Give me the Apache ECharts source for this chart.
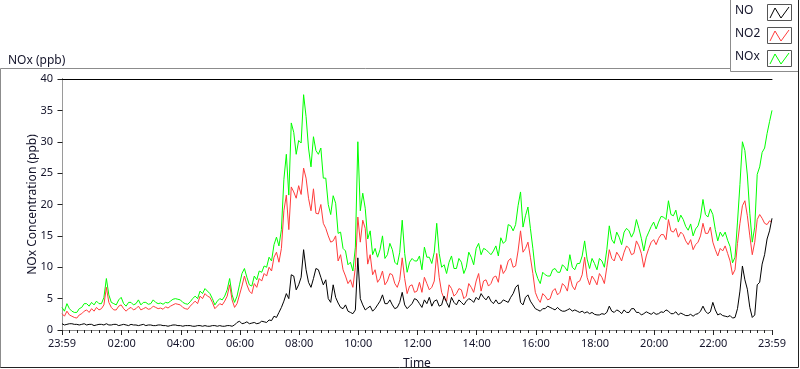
<!DOCTYPE html>
<html>
<head>
<meta charset="utf-8">
<script src="https://cdn.jsdelivr.net/npm/echarts@6/dist/echarts.min.js"></script>
<style>
html,body{margin:0;padding:0;background:#fff;}
#chart{width:800px;height:369px;}
</style>
</head>
<body>
<div id="chart"></div>
<script>
// sampling grid: minutes relative to 00:00 (start 23:59 of previous day), 5-min step
const startMinute = -1;
const stepMinutes = 5;

const seriesNames = ['NO', 'NO2', 'NOx'];

const noValues = [
1.0,0.8, 0.9,1.0, 1.0,0.9, 0.9,0.8, 0.9,1.0, 0.8,0.9, 0.9,0.7, 0.8,0.9, 0.9,0.8, 1.0,0.8,
0.8,0.9, 0.9,0.7, 0.8,0.9, 0.8,0.7, 0.9,0.8, 0.8,0.7, 0.8,0.9, 0.7,0.8, 0.8,0.7, 0.7,0.8,
0.8,0.7, 0.7,0.6, 0.7,0.8, 0.8,0.7, 0.7,0.6, 0.7,0.7, 0.7,0.6, 0.6,0.7, 0.7,0.6, 0.7,0.6,
0.6,0.7, 0.7,0.6, 0.7,0.6, 0.6,0.7, 0.7,0.6, 0.8,1.2, 1.4,1.0, 1.1,1.3, 1.0,1.1, 1.2,1.0,
1.1,1.4, 1.3,1.2, 1.6,1.5, 2.2,2.0, 2.8,3.6, 4.6,5.8, 5.0,8.8, 8.6,6.4, 7.2,8.4, 12.8,9.6,
7.6,6.8, 8.2,9.8, 9.6,8.4, 7.2,8.0, 5.0,4.4, 7.2,5.2, 4.3,3.6, 3.4,4.0, 3.0,2.8, 2.6,3.2,
11.5,5.0, 4.0,3.2, 3.5,3.8, 3.0,3.4, 4.0,4.6, 5.6,4.2, 4.2,4.8, 4.0,3.4, 3.6,4.4, 6.0,4.0,
3.4,3.8, 4.2,5.0, 4.8,4.2, 3.6,4.8, 4.2,5.2, 3.8,4.6, 4.8,3.8, 4.0,5.4, 4.4,3.6, 5.2,4.4,
4.0,4.8, 4.4,4.0, 4.6,5.0, 4.8,4.4, 5.2,4.8, 5.8,5.2, 4.8,5.4, 4.6,4.2, 4.8,4.2, 4.3,4.8,
4.6,4.4, 5.2,5.8, 6.8,7.2, 4.4,4.0, 5.2,5.6, 4.6,4.0, 3.4,3.2, 3.0,3.4, 3.4,3.8, 3.6,3.4,
3.2,3.6, 3.2,3.0, 3.0,3.2, 3.4,3.0, 3.2,3.0, 2.8,3.0, 2.7,2.9, 2.6,2.8, 2.5,2.4, 2.4,2.6,
2.5,2.8, 3.8,3.0, 2.8,3.2, 3.0,2.6, 3.2,2.8, 2.8,3.4, 3.4,2.8, 2.8,2.4, 2.6,2.9, 2.7,2.5,
2.8,2.5, 2.6,2.9, 2.8,3.2, 3.0,2.6, 2.6,2.9, 2.4,2.7, 2.5,2.3, 2.3,2.5, 2.2,2.5, 2.6,3.0,
3.8,3.0, 2.6,2.9, 4.4,3.2, 2.4,2.6, 2.3,2.2, 2.1,2.3, 1.9,2.0, 3.4,6.2, 10.2,8.0, 6.5,3.6,
2.0,2.4, 7.2,7.6, 10.5,12.0, 14.5,15.8, 17.8];

const no2Values = [
2.6,2.2, 3.0,2.4, 2.2,2.0, 1.9,2.4, 2.6,3.0, 3.2,2.8, 3.4,3.0, 3.6,3.2, 3.4,4.0, 6.8,4.4,
3.6,3.2, 3.2,3.8, 4.0,3.4, 3.0,3.4, 3.6,3.2, 3.4,3.8, 3.2,3.4, 3.6,3.3, 3.4,3.8, 3.6,3.4,
3.5,3.3, 3.7,3.5, 3.8,4.0, 4.2,4.1, 4.0,3.6, 3.4,3.3, 3.8,4.2, 4.6,4.2, 5.4,5.0, 5.8,5.4,
5.2,4.4, 3.4,3.8, 4.2,4.0, 4.6,5.4, 7.2,4.8, 3.6,4.2, 5.6,7.0, 8.6,7.2, 6.2,5.8, 7.4,6.8,
8.2,7.8, 9.0,8.6, 10.0,9.4, 11.6,12.4, 10.8,13.0, 19.0,21.5, 16.0,22.8, 22.0,21.0, 23.0,21.6, 25.8,24.2,
21.0,19.0, 22.5,18.6, 18.5,20.0, 17.0,16.2, 15.0,14.0, 14.2,15.0, 11.0,12.0, 9.6,8.6, 7.4,8.0, 6.8,10.0,
18.0,14.0, 17.5,16.2, 10.5,12.0, 8.8,9.6, 7.6,8.2, 9.4,7.2, 7.8,9.0, 8.8,7.4, 6.8,8.0, 11.5,8.2,
5.8,7.0, 7.2,6.0, 6.2,7.6, 6.0,8.4, 7.4,6.4, 6.8,7.8, 12.2,8.4, 6.0,5.0, 4.6,7.2, 6.6,5.4,
5.8,6.6, 6.4,5.0, 5.4,7.4, 6.8,6.0, 7.8,9.0, 6.2,7.8, 8.0,7.0, 7.4,8.4, 8.6,7.6, 10.4,9.0,
9.6,11.0, 11.4,10.0, 10.2,12.6, 15.8,12.4, 13.0,14.0, 11.6,9.0, 6.0,5.0, 4.4,5.8, 5.4,4.8, 5.0,6.2,
6.6,5.6, 6.0,7.4, 7.0,6.2, 8.6,7.0, 6.4,7.6, 7.8,8.8, 11.6,8.4, 7.2,8.6, 8.0,7.2, 9.0,8.4,
7.4,10.0, 12.8,11.4, 11.0,12.4, 11.8,11.0, 12.4,13.4, 13.0,12.0, 12.2,14.2, 13.4,12.2, 10.0,11.8, 13.0,14.0,
14.4,13.6, 14.6,15.2, 15.2,14.4, 17.6,15.8, 15.6,16.2, 14.8,15.6, 15.2,14.2, 13.6,14.4, 12.8,13.6, 14.0,15.0,
17.0,15.4, 15.4,16.4, 14.0,12.8, 11.8,13.0, 12.6,13.4, 12.2,11.0, 8.8,9.6, 13.8,17.0, 19.8,20.6, 18.2,15.0,
12.0,14.0, 17.6,18.4, 17.8,17.0, 16.8,17.4, 17.2];

const noxValues = [
3.6,3.0, 4.2,3.4, 3.0,2.8, 2.8,3.4, 3.6,4.2, 4.2,3.8, 4.4,4.0, 4.6,4.2, 4.2,5.2, 8.2,5.6,
4.4,4.2, 4.0,4.8, 5.2,4.2, 3.8,4.4, 4.4,4.0, 4.2,4.8, 4.0,4.4, 4.4,4.1, 4.2,4.8, 4.4,4.2,
4.3,4.1, 4.4,4.3, 4.6,4.9, 5.0,4.9, 4.8,4.4, 4.2,4.1, 4.5,5.0, 5.4,5.0, 6.2,5.8, 6.6,6.2,
5.8,5.0, 4.0,4.6, 5.0,4.8, 5.4,6.4, 8.2,5.6, 4.4,5.4, 7.2,9.0, 9.8,8.4, 7.2,7.0, 8.6,8.0,
9.4,9.2, 10.2,10.0, 11.6,11.0, 13.6,14.8, 13.4,16.0, 24.0,28.0, 21.5,33.0, 31.5,28.0, 30.2,29.8, 37.5,34.0,
29.0,26.0, 30.8,28.6, 28.0,29.0, 24.2,24.2, 20.0,18.4, 21.4,20.2, 15.4,15.6, 13.0,12.6, 10.4,10.8, 9.4,13.2,
30.0,19.0, 21.8,19.4, 14.5,15.8, 12.0,13.0, 11.6,12.8, 15.0,11.4, 12.0,13.8, 12.8,10.8, 10.4,12.4, 17.5,12.2,
9.2,10.8, 11.4,11.0, 11.0,11.8, 9.6,13.2, 11.6,11.6, 10.6,12.4, 17.0,12.2, 10.0,10.4, 9.0,10.8, 11.8,9.8,
9.8,11.4, 10.8,9.0, 10.0,12.4, 11.6,10.4, 13.0,13.8, 12.0,13.0, 12.8,12.4, 12.0,12.6, 13.4,11.8, 14.7,13.8,
14.2,16.8, 16.6,15.8, 16.8,19.8, 22.0,16.4, 18.2,19.6, 16.2,13.0, 9.4,8.2, 7.4,9.2, 8.8,8.6, 8.6,9.6,
9.8,9.2, 9.2,10.4, 10.0,9.4, 12.0,10.0, 9.6,10.6, 10.6,11.8, 14.2,11.3, 9.8,11.4, 10.6,9.6, 11.4,11.0,
10.0,12.8, 16.6,14.4, 13.8,15.6, 14.8,13.6, 15.6,16.2, 15.8,14.8, 15.6,17.6, 16.2,14.6, 12.6,14.7, 15.6,16.5,
17.2,16.1, 17.2,18.1, 18.0,17.6, 20.6,18.4, 18.2,19.1, 17.2,18.3, 17.6,16.5, 15.9,16.9, 15.0,16.1, 16.6,18.0,
20.8,18.4, 18.0,19.3, 18.4,16.0, 14.2,15.6, 14.9,15.6, 14.3,13.3, 10.7,11.6, 17.2,23.2, 30.0,28.6, 24.7,18.6,
14.0,16.4, 24.8,26.0, 28.3,29.0, 31.3,33.2, 35.0];

// tick positions (minutes relative to 00:00)
const xMajorTicks = [-1,120,240,360,480,600,720,840,960,1080,1200,1320,1439];
const xMinorTicks = [14,29,44,59,74,89,104,
  134,149,164,179,194,209,224,254,269,284,299,314,329,344,
  374,389,404,419,434,449,464,494,509,524,539,554,569,584,
  614,629,644,659,674,689,704,734,749,764,779,794,809,824,
  854,869,884,899,914,929,944,974,989,1004,1019,1034,1049,1064,
  1094,1109,1124,1139,1154,1169,1184,1214,1229,1244,1259,1274,1289,1304,
  1334,1349,1364,1379,1394,1409,1424];

const colors = {NO:'#000000', NO2:'#ff3c3c', NOx:'#00ff00'};
const FONT = '"Noto Sans", "Open Sans", sans-serif';
const TXT = '#14142a';

function pair(vals){ return vals.map((v,i)=>[startMinute + i*stepMinutes, v]); }
function fmtTime(v){
  if (v < 0 || v >= 1439) return '23:59';
  const h = Math.floor(v/60), m = Math.round(v%60);
  return String(h).padStart(2,'0') + ':' + String(m).padStart(2,'0');
}

const chart = echarts.init(document.getElementById('chart'), null, {renderer:'canvas'});

// legend graphic
const legendItems = [];
seriesNames.forEach((name, k) => {
  const cy = 13 + k*23;
  legendItems.push({type:'text', left: 735, top: cy-8, style:{text:name, font:'12px '+FONT, fill:TXT}});
  legendItems.push({type:'rect', shape:{x:767.5, y:cy-8.5, width:24, height:16}, style:{fill:'#fff', stroke:'#555', lineWidth:1}});
  legendItems.push({type:'polyline', shape:{points:[[770,cy+5],[775,cy-5],[781,cy+5],[789,cy-6]]}, style:{stroke:colors[name], lineWidth:1, fill:null}});
});

const option = {
  animation: false,
  backgroundColor: '#fff',
  title: {text:'NOx (ppb)', left: 3, top: 50, textStyle:{fontSize:12, fontWeight:'normal', fontFamily:FONT, color:TXT}},
  grid: {left: 62, right: 28, top: 79, bottom: 39, containLabel:false, outerBoundsMode:'none'},
  xAxis: [
    {type:'value', min:-1, max:1439, position:'bottom',
     axisLine:{show:true, lineStyle:{color:'#8a8a8a', width:1}},
     axisTick:{show:true, customValues:xMajorTicks, length:5, lineStyle:{color:'#222'}},
     axisLabel:{customValues:xMajorTicks, formatter:fmtTime, fontSize:11, fontFamily:FONT, color:TXT, margin:8},
     splitLine:{show:false},
     name:'Time', nameLocation:'middle', nameGap:28, nameMoveOverlap:false,
     nameTextStyle:{fontSize:12, fontFamily:FONT, color:TXT}},
    {type:'value', min:-1, max:1439, position:'bottom', gridIndex:0,
     axisLine:{show:false},
     axisTick:{show:true, customValues:xMinorTicks, length:3, lineStyle:{color:'#222'}},
     axisLabel:{show:false}, splitLine:{show:false}},
    {type:'value', min:-1, max:1439, position:'top', gridIndex:0,
     axisLine:{show:true, lineStyle:{color:'#000', width:1}},
     axisTick:{show:false}, axisLabel:{show:false}, splitLine:{show:false}}
  ],
  yAxis: [
    {type:'value', min:0, max:40, interval:5, position:'left',
     axisLine:{show:true, lineStyle:{color:'#000', width:1}},
     axisTick:{show:true, length:5, lineStyle:{color:'#222'}},
     axisLabel:{fontSize:11, fontFamily:FONT, color:TXT, margin:9},
     splitLine:{show:false},
     name:'NOx Concentration (ppb)', nameLocation:'middle', nameGap:23, nameMoveOverlap:false,
     nameTextStyle:{fontSize:12, fontFamily:FONT, color:TXT}},
    {type:'value', min:0, max:40, interval:5, position:'right',
     axisLine:{show:true, lineStyle:{color:'#9a9a9a', width:1}},
     axisTick:{show:false}, axisLabel:{show:false}, splitLine:{show:false}}
  ],
  series: [
    {name:'NOx', type:'line', data:pair(noxValues), showSymbol:false, symbol:'none',
     lineStyle:{color:colors.NOx, width:1}, z:2},
    {name:'NO2', type:'line', data:pair(no2Values), showSymbol:false, symbol:'none',
     lineStyle:{color:colors.NO2, width:1}, z:3},
    {name:'NO', type:'line', data:pair(noValues), showSymbol:false, symbol:'none',
     lineStyle:{color:colors.NO, width:1}, z:4}
  ],
  graphic: [
    {type:'polyline', shape:{points:[[0.5,368],[0.5,68.5],[730,68.5]]}, style:{stroke:'#8c8c8c', lineWidth:1, fill:null}, silent:true},
    {type:'polyline', shape:{points:[[798.5,0],[798.5,367.5],[0.5,367.5]]}, style:{stroke:'#222', lineWidth:1, fill:null}, silent:true},
    {type:'polyline', shape:{points:[[730.5,0],[730.5,71.5],[798,71.5]]}, style:{stroke:'#8c8c8c', lineWidth:1, fill:null}, silent:true}
  ].concat(legendItems)
};
chart.setOption(option);
</script>
</body>
</html>
